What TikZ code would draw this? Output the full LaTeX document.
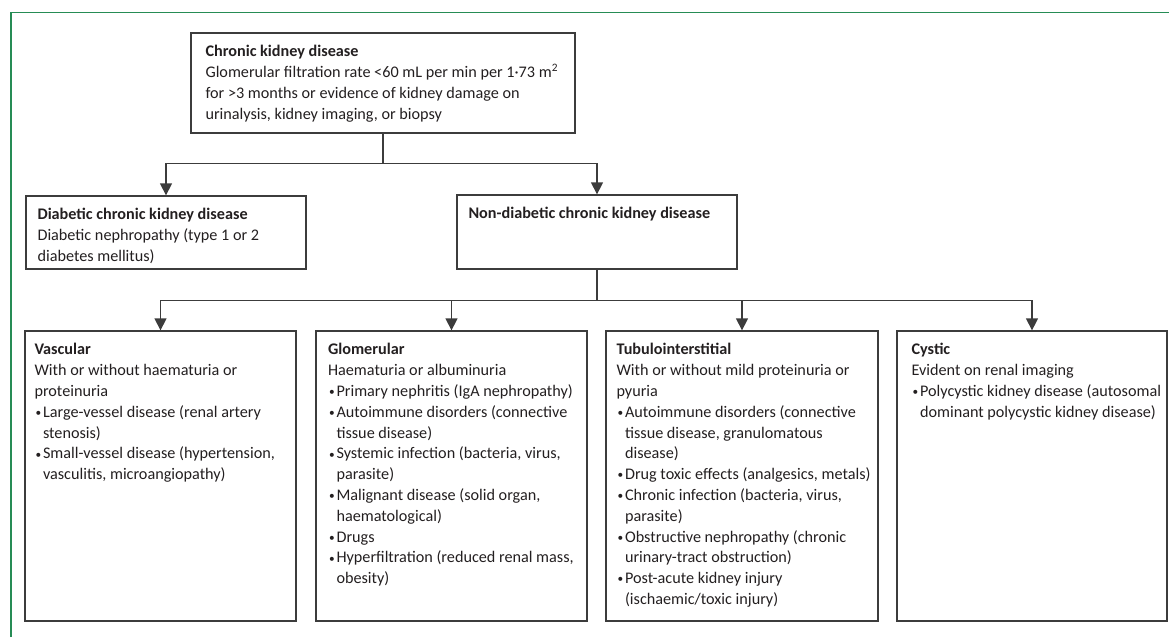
\documentclass[tikz,border=0pt]{standalone}
\usepackage{fontspec}
\setmainfont{Carlito}
\usetikzlibrary{arrows.meta,calc}
\definecolor{frame}{RGB}{38,140,85}
\definecolor{boxline}{RGB}{60,60,60}
\definecolor{txtc}{RGB}{35,31,32}
\newcommand\bu{\makebox[8.5pt][l]{\hspace{1pt}\raisebox{0.8pt}{\scalebox{0.7}{\textbullet}}}}
\newcommand\ii{\hspace*{8.5pt}}
\begin{document}
\begin{tikzpicture}[x=1pt,y=-1pt,
  box/.style={draw=boxline, line width=1.3pt, inner sep=0pt},
  btxt/.style={anchor=north west, inner sep=0pt, align=left, text=txtc,
    font=\fontsize{16.2}{20.8}\selectfont},
  conn/.style={draw=boxline, line width=1.3pt},
  arr/.style={conn, -{Triangle[width=12pt,length=12pt]}}]
\useasboundingbox (0,0) rectangle (1169,637);
% frame
\draw[frame, line width=1.5pt] (11,637) -- (11,12.5) -- (1169,12.5);
% boxes
\node[box, minimum width=384pt, minimum height=100pt] (top) at (383,83) {};
\node[box, minimum width=280pt, minimum height=73pt] (diab) at (166,232.5) {};
\node[box, minimum width=280pt, minimum height=74pt] (nondiab) at (597,232) {};
\node[box, minimum width=271pt, minimum height=290pt] (vasc) at (160.5,476) {};
\node[box, minimum width=271pt, minimum height=290pt] (glom) at (451.5,476) {};
\node[box, minimum width=272pt, minimum height=290pt] (tubu) at (742,476) {};
\node[box, minimum width=270pt, minimum height=290pt] (cyst) at (1032,476) {};
% texts
\node[btxt] (toptxt) at ($(top.north west)+(15,13)$) {\textbf{Chronic kidney disease}\\
Glomerular filtration rate <60 mL per min per 1·73 m\textsuperscript{2}\\
for >3 months or evidence of kidney damage on\\
urinalysis, kidney imaging, or biopsy};
\node[btxt] (diabtxt) at ($(diab.north west)+(12,13)$) {\textbf{Diabetic chronic kidney disease}\\
Diabetic nephropathy (type 1 or 2\\
diabetes mellitus)};
\node[btxt] (nondiabtxt) at ($(nondiab.north west)+(12,13)$) {\textbf{Non-diabetic chronic kidney disease}};
\node[btxt] (vasctxt) at ($(vasc.north west)+(10,13)$) {\textbf{Vascular}\\
With or without haematuria or\\
proteinuria\\
\bu Large-vessel disease (renal artery\\
\ii stenosis)\\
\bu Small-vessel disease (hypertension,\\
\ii vasculitis, microangiopathy)};
\node[btxt] (glomtxt) at ($(glom.north west)+(12.5,13)$) {\textbf{Glomerular}\\
Haematuria or albuminuria\\
\bu Primary nephritis (IgA nephropathy)\\
\bu Autoimmune disorders (connective\\
\ii tissue disease)\\
\bu Systemic infection (bacteria, virus,\\
\ii parasite)\\
\bu Malignant disease (solid organ,\\
\ii haematological)\\
\bu Drugs\\
\bu Hyperfiltration (reduced renal mass,\\
\ii obesity)};
\node[btxt] (tubutxt) at ($(tubu.north west)+(11,13)$) {\textbf{Tubulointerstitial}\\
With or without mild proteinuria or\\
pyuria\\
\bu Autoimmune disorders (connective\\
\ii tissue disease, granulomatous\\
\ii disease)\\
\bu Drug toxic effects (analgesics, metals)\\
\bu Chronic infection (bacteria, virus,\\
\ii parasite)\\
\bu Obstructive nephropathy (chronic\\
\ii urinary-tract obstruction)\\
\bu Post-acute kidney injury\\
\ii (ischaemic/toxic injury)};
\node[btxt] (cysttxt) at ($(cyst.north west)+(15,13)$) {\textbf{Cystic}\\
Evident on renal imaging\\
\bu Polycystic kidney disease (autosomal\\
\ii dominant polycystic kidney disease)};
% connectors
\path (top.south) ++(0,30) coordinate (j1);
\draw[conn] (top.south) -- (j1);
\draw[arr] (j1) -| (diab.north);
\draw[arr] (j1) -| (nondiab.north);
\path (nondiab.south) ++(0,31) coordinate (j2);
\draw[conn] (nondiab.south) -- (j2);
\draw[arr] (j2) -| (vasc.north);
\draw[arr] (j2) -| (glom.north);
\draw[arr] (j2) -| (tubu.north);
\draw[arr] (j2) -| (cyst.north);
\end{tikzpicture}
\end{document}
